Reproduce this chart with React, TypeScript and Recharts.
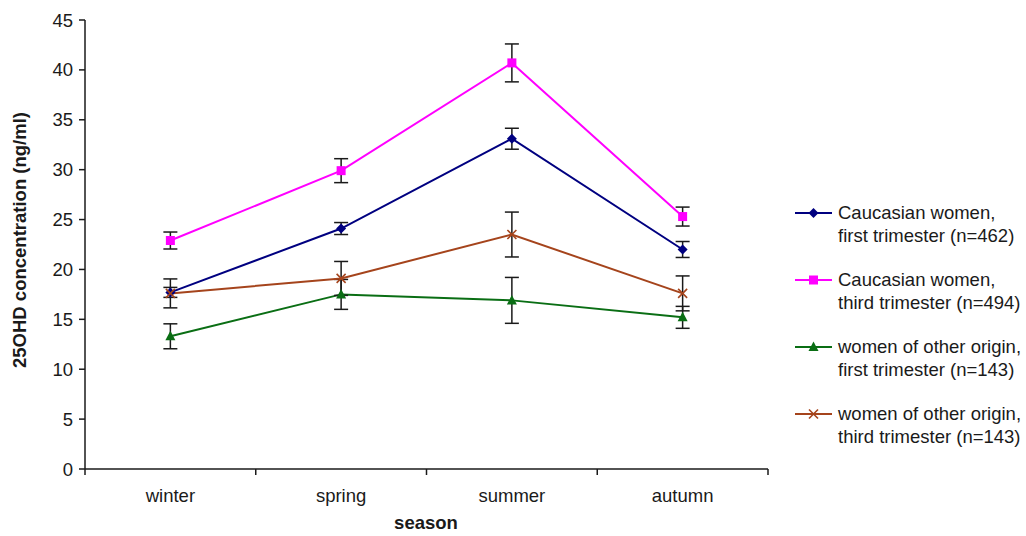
import { LineChart, Line, XAxis, YAxis, ErrorBar } from 'recharts';

const seasons = ['winter', 'spring', 'summer', 'autumn'];
const seasonPos = [0.5, 1.5, 2.5, 3.5];

const cauFirst = [17.7, 24.1, 33.1, 22.0];
const cauFirstErr = [0.5, 0.6, 1.05, 0.8];
const cauThird = [22.9, 29.9, 40.7, 25.3];
const cauThirdErr = [0.85, 1.2, 1.9, 0.95];
const otherFirst = [13.3, 17.5, 16.9, 15.2];
const otherFirstErr = [1.25, 1.5, 2.3, 1.1];
const otherThird = [17.6, 19.1, 23.5, 17.6];
const otherThirdErr = [1.45, 1.7, 2.25, 1.75];

const yTicks = [0, 5, 10, 15, 20, 25, 30, 35, 40, 45];
const xTicks = [0, 0.5, 1, 1.5, 2, 2.5, 3, 3.5, 4];

const data = seasons.map((s, i) => ({
  season: s,
  pos: seasonPos[i],
  cauFirst: cauFirst[i],
  cauFirstErr: cauFirstErr[i],
  cauThird: cauThird[i],
  cauThirdErr: cauThirdErr[i],
  otherFirst: otherFirst[i],
  otherFirstErr: otherFirstErr[i],
  otherThird: otherThird[i],
  otherThirdErr: otherThirdErr[i],
}));

const NAVY = '#000080';
const MAGENTA = '#FF00FF';
const GREEN = '#0A6E14';
const BROWN = '#A5441C';
const INK = '#1a1a1a';
const FONT = 'Arial, "Liberation Sans", sans-serif';
const FS = 18.5;

type Shape = 'diamond' | 'square' | 'triangle' | 'cross';

function Marker({ cx, cy, shape, color }: { cx: number; cy: number; shape: Shape; color: string }) {
  if (shape === 'diamond') {
    return <polygon points={`${cx},${cy - 5} ${cx + 5},${cy} ${cx},${cy + 5} ${cx - 5},${cy}`} fill={color} />;
  }
  if (shape === 'square') {
    return <rect x={cx - 4.5} y={cy - 4.5} width={9} height={9} fill={color} />;
  }
  if (shape === 'triangle') {
    return <polygon points={`${cx},${cy - 5.5} ${cx + 5},${cy + 4} ${cx - 5},${cy + 4}`} fill={color} />;
  }
  return (
    <g stroke={color} strokeWidth={1.6}>
      <line x1={cx - 4.5} y1={cy - 4.5} x2={cx + 4.5} y2={cy + 4.5} />
      <line x1={cx - 4.5} y1={cy + 4.5} x2={cx + 4.5} y2={cy - 4.5} />
    </g>
  );
}

function dotFor(shape: Shape, color: string) {
  return (props: any) => (
    <Marker key={`${shape}-${props.index}`} cx={props.cx} cy={props.cy} shape={shape} color={color} />
  );
}

// integer ticks are the category boundaries, half ticks carry the season names
function SeasonTick(props: any) {
  const { x, y, payload } = props;
  const v = payload.value as number;
  if (Number.isInteger(v)) {
    return <line x1={x} y1={y} x2={x} y2={y + 6} stroke={INK} strokeWidth={1.5} />;
  }
  const idx = seasonPos.indexOf(v);
  return (
    <text x={x} y={y + 33} textAnchor="middle" fontSize={FS} fill={INK} fontFamily={FONT}>
      {seasons[idx]}
    </text>
  );
}

const legendItems: { color: string; shape: Shape; l1: string; l2: string }[] = [
  { color: NAVY, shape: 'diamond', l1: 'Caucasian women,', l2: 'first trimester (n=462)' },
  { color: MAGENTA, shape: 'square', l1: 'Caucasian women,', l2: 'third trimester (n=494)' },
  { color: GREEN, shape: 'triangle', l1: 'women of other origin,', l2: 'first trimester (n=143)' },
  { color: BROWN, shape: 'cross', l1: 'women of other origin,', l2: 'third trimester (n=143)' },
];

export default function App() {
  return (
    <div style={{ position: 'absolute', left: 0, top: 0, width: 1026, height: 536, background: '#fff' }}>
      <LineChart width={1026} height={536} data={data} margin={{ top: 20, right: 258, bottom: 0, left: 0 }}>
        <YAxis
          domain={[0, 45]}
          ticks={yTicks}
          interval={0}
          width={85}
          axisLine={{ stroke: INK, strokeWidth: 1.5 }}
          tickLine={{ stroke: INK, strokeWidth: 1.5 }}
          tickSize={6}
          tickMargin={6}
          tick={{ fill: INK, fontSize: FS, fontFamily: FONT }}
          label={{
            content: () => (
              <text
                x={26}
                y={240}
                transform="rotate(-90 26 240)"
                textAnchor="middle"
                fontSize={FS}
                fontWeight="bold"
                fill={INK}
                fontFamily={FONT}
              >
                25OHD concentration (ng/ml)
              </text>
            ),
          }}
        />
        <XAxis
          dataKey="pos"
          type="number"
          domain={[0, 4]}
          ticks={xTicks}
          interval={0}
          height={67}
          axisLine={{ stroke: INK, strokeWidth: 1.5 }}
          tickLine={false}
          tickSize={0}
          tickMargin={0}
          tick={<SeasonTick />}
          label={{
            content: () => (
              <text x={426} y={529} textAnchor="middle" fontSize={FS} fontWeight="bold" fill={INK} fontFamily={FONT}>
                season
              </text>
            ),
          }}
        />
        <Line dataKey="cauFirst" stroke={NAVY} strokeWidth={2} dot={dotFor('diamond', NAVY)} isAnimationActive={false}>
          <ErrorBar dataKey="cauFirstErr" direction="y" width={7} stroke={INK} strokeWidth={1.5} />
        </Line>
        <Line dataKey="cauThird" stroke={MAGENTA} strokeWidth={2} dot={dotFor('square', MAGENTA)} isAnimationActive={false}>
          <ErrorBar dataKey="cauThirdErr" direction="y" width={7} stroke={INK} strokeWidth={1.5} />
        </Line>
        <Line dataKey="otherFirst" stroke={GREEN} strokeWidth={2} dot={dotFor('triangle', GREEN)} isAnimationActive={false}>
          <ErrorBar dataKey="otherFirstErr" direction="y" width={7} stroke={INK} strokeWidth={1.5} />
        </Line>
        <Line dataKey="otherThird" stroke={BROWN} strokeWidth={2} dot={dotFor('cross', BROWN)} isAnimationActive={false}>
          <ErrorBar dataKey="otherThirdErr" direction="y" width={7} stroke={INK} strokeWidth={1.5} />
        </Line>
      </LineChart>
      <div style={{ position: 'absolute', left: 795, top: 201, fontFamily: FONT, fontSize: FS, color: INK }}>
        {legendItems.map((it) => (
          <div key={it.l2} style={{ display: 'flex', alignItems: 'flex-start', height: 67 }}>
            <svg width={40} height={24} style={{ flex: 'none' }}>
              <line x1={0} y1={12} x2={37} y2={12} stroke={it.color} strokeWidth={2} />
              <Marker cx={18.5} cy={12} shape={it.shape} color={it.color} />
            </svg>
            <div style={{ lineHeight: '23px', whiteSpace: 'nowrap', marginLeft: 3 }}>
              <div>{it.l1}</div>
              <div>{it.l2}</div>
            </div>
          </div>
        ))}
      </div>
    </div>
  );
}
